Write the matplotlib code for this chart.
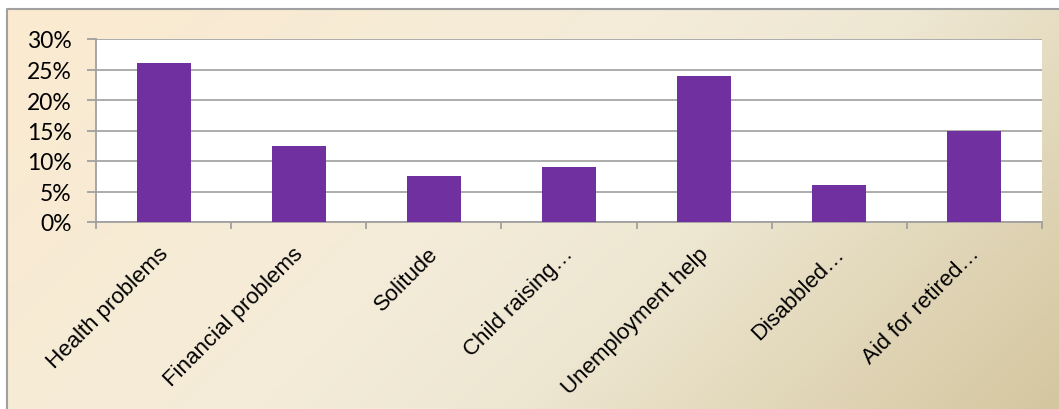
import matplotlib
matplotlib.use("Agg")
import matplotlib.pyplot as plt
import matplotlib.transforms as mtransforms
import numpy as np
from matplotlib.colors import LinearSegmentedColormap
from matplotlib.ticker import FuncFormatter

categories = ["Health problems", "Financial problems", "Solitude", "Child raising\u2026",
              "Unemployment help", "Disabbled\u2026", "Aid for retired\u2026"]
values = [26, 12.5, 7.5, 9, 24, 6, 15]
yticks = [0, 5, 10, 15, 20, 25, 30]

W, H = 1059, 410
fig = plt.figure(figsize=(W / 100, H / 100), dpi=100)
fig.patch.set_facecolor("white")

# background gradient inside the chart frame
bg = fig.add_axes([0, 0, 1, 1])
bg.set_xlim(0, W)
bg.set_ylim(H, 0)
bg.axis("off")
xx, yy = np.meshgrid(np.linspace(0, 1, 300), np.linspace(0, 1, 120))
t = (xx * 0.72 + yy * 0.28)
cmap = LinearSegmentedColormap.from_list(
    "bg", [(0, "#FBEAD0"), (0.45, "#F4ECD9"), (0.62, "#EEE7D2"), (1, "#D4C69F")])
bg.imshow(t, cmap=cmap, extent=[7, W, H, 10], aspect="auto", interpolation="bilinear")
bg.plot([7, 7, W], [H, 10, 10], color="#A0A0A0", lw=1.5)

ax = fig.add_axes([96 / W, (H - 223) / H, (1042 - 96) / W, 183 / H])
ax.set_facecolor("white")
x = np.arange(len(categories))
ax.bar(x, values, width=0.4, color="#7030A0", zorder=3)
ax.set_xlim(-0.5, len(categories) - 0.5)
ax.set_ylim(0, 30)
ax.set_yticks(yticks)
ax.yaxis.set_major_formatter(FuncFormatter(lambda v, p: f"{v:.0f}%"))
ax.yaxis.grid(True, color="#A6A6A6", lw=1.3, zorder=1)
ax.set_axisbelow(True)
for s in ["top", "right"]:
    ax.spines[s].set_visible(False)
for s in ["left", "bottom"]:
    ax.spines[s].set_color("#A0A0A0")
    ax.spines[s].set_linewidth(1.3)
ax.tick_params(axis="y", length=6.5, width=1.3, color="#A0A0A0", pad=11,
               labelsize=16.5, labelcolor="black")
for lab in ax.get_yticklabels():
    lab.set_fontfamily("Lato")

ax.set_xticks(x)
ax.set_xticklabels(categories, rotation=45, ha="right", rotation_mode="anchor",
                   fontsize=16, family="Liberation Sans")
ax.tick_params(axis="x", which="major", length=0, pad=15)
shift = mtransforms.ScaledTranslation(-6 / 100, 0, fig.dpi_scale_trans)
for lab in ax.get_xticklabels():
    lab.set_transform(lab.get_transform() + shift)
ax.set_xticks(np.arange(-0.5, len(categories), 1), minor=True)
ax.tick_params(axis="x", which="minor", length=5, width=1.3, color="#A0A0A0")

fig.savefig("out.png", dpi=100)
